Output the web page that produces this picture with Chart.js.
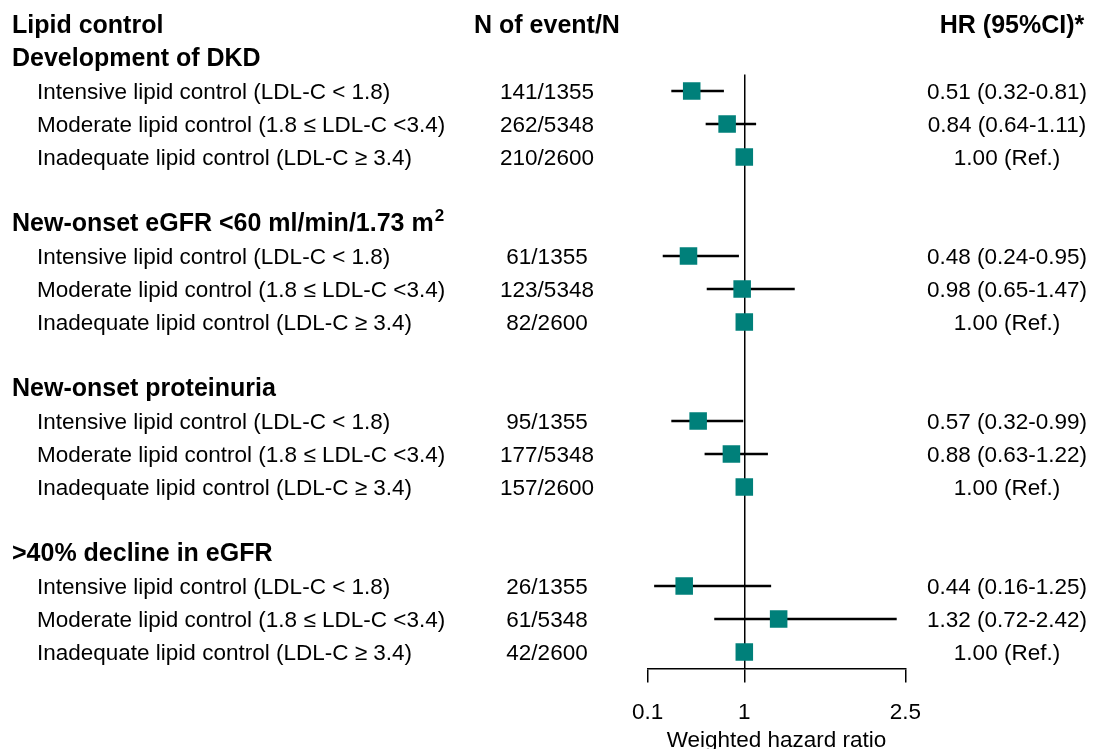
<!DOCTYPE html>
<html>
<head>
<meta charset="utf-8">
<script src="https://cdn.jsdelivr.net/npm/chart.js"></script>
<style>
  html, body { margin: 0; padding: 0; background: #fff; }
  #wrap { width: 1094px; height: 749px; }
</style>
</head>
<body>
<div id="wrap"><canvas id="forestPlot"></canvas></div>
<script>
// data
const groups = ['Development of DKD', 'New-onset eGFR <60 ml/min/1.73 m', 'New-onset proteinuria', '>40% decline in eGFR'];
const groupSup = ['', '2', '', ''];
const levels = ['Intensive lipid control (LDL-C < 1.8)', 'Moderate lipid control (1.8 \u2264 LDL-C <3.4)', 'Inadequate lipid control (LDL-C \u2265 3.4)'];
const events = ['141/1355', '262/5348', '210/2600', '61/1355', '123/5348', '82/2600', '95/1355', '177/5348', '157/2600', '26/1355', '61/5348', '42/2600'];
const hr = [0.51, 0.84, 1.00, 0.48, 0.98, 1.00, 0.57, 0.88, 1.00, 0.44, 1.32, 1.00];
const lower = [0.32, 0.64, null, 0.24, 0.65, null, 0.32, 0.63, null, 0.16, 0.72, null];
const upper = [0.81, 1.11, null, 0.95, 1.47, null, 0.99, 1.22, null, 1.25, 2.42, null];
const xTicks = [0.1, 1, 2.5];

const teal = '#00807a';
const fam = '"Liberation Sans", Arial, sans-serif';
const regFont = '22.5px ' + fam;
const boldFont = 'bold 25px ' + fam;
const supFont = 'bold 17px ' + fam;

// row 0 = column headers; each group: header row, 3 rows, blank row
function rowOf(i) {
    const g = Math.floor(i / 3);
    return 2 + g * 5 + (i % 3);
}

const points = hr.map((v, i) => ({ x: v, y: rowOf(i) }));

const ciSets = [];
lower.forEach((lo, i) => {
    if (lo === null) return;
    ciSets.push({
        type: 'line',
        data: [{ x: lo, y: rowOf(i) }, { x: upper[i], y: rowOf(i) }],
        borderColor: '#000',
        borderWidth: 2.7,
        pointRadius: 0,
        fill: false
    });
});

function hrLabel(i) {
    if (lower[i] === null) return hr[i].toFixed(2) + ' (Ref.)';
    return hr[i].toFixed(2) + ' (' + lower[i].toFixed(2) + '-' + upper[i].toFixed(2) + ')';
}

const tableText = {
    id: 'tableText',
    afterDraw(chart) {
        const { ctx, scales: { y } } = chart;
        const colN = 547, colHR = 1007;
        const dy = 1.5; // canvas 'middle' sits a bit high for caps
        ctx.save();
        ctx.fillStyle = '#000';
        ctx.textBaseline = 'middle';

        // column headers
        const hy = y.getPixelForValue(0) + dy;
        ctx.font = boldFont;
        ctx.textAlign = 'left';
        ctx.fillText('Lipid control', 12, hy);
        ctx.textAlign = 'center';
        ctx.fillText('N of event/N', colN, hy);
        ctx.fillText('HR (95%CI)*', 1012, hy);

        groups.forEach((g, k) => {
            const py = y.getPixelForValue(1 + k * 5) + dy;
            ctx.font = boldFont;
            ctx.textAlign = 'left';
            ctx.fillText(g, 12, py);
            if (groupSup[k]) {
                const w = ctx.measureText(g).width;
                ctx.font = supFont;
                ctx.fillText(groupSup[k], 12 + w + 1, py - 8);
            }
        });

        ctx.font = regFont;
        hr.forEach((v, i) => {
            const py = y.getPixelForValue(rowOf(i)) + dy;
            ctx.textAlign = 'left';
            ctx.fillText(levels[i % 3], 37, py);
            ctx.textAlign = 'center';
            ctx.fillText(events[i], colN, py);
            ctx.fillText(hrLabel(i), colHR, py);
        });
        ctx.restore();
    }
};

const ctx = document.getElementById('forestPlot').getContext('2d');

const config = {
    type: 'scatter',
    data: {
        datasets: [{
            type: 'scatter',
            data: points,
            pointStyle: 'rect',
            pointRadius: 12.4,
            pointHoverRadius: 12.4,
            backgroundColor: teal,
            borderColor: teal,
            borderWidth: 0
        }].concat(ciSets)
    },
    options: {
        responsive: true,
        maintainAspectRatio: false,
        animation: false,
        layout: {
            padding: { left: 647.7, right: 188.7, top: 74.5, bottom: 0 }
        },
        plugins: {
            legend: { display: false },
            tooltip: { enabled: false }
        },
        scales: {
            x: {
                type: 'linear',
                min: 0.1,
                max: 2.5,
                afterBuildTicks: (scale) => {
                    scale.ticks = xTicks.map(v => ({ value: v }));
                },
                afterFit: (scale) => {
                    scale.height = 80.5;
                },
                ticks: {
                    color: '#000',
                    padding: 16.5,
                    font: { family: fam, size: 22.5 },
                    callback: (v) => String(v)
                },
                grid: {
                    drawOnChartArea: true,
                    color: (c) => (c.tick && c.tick.value === 1 ? '#000' : 'rgba(0,0,0,0)'),
                    tickColor: '#000',
                    tickLength: 14,
                    lineWidth: 1.5
                },
                border: { display: true, color: '#000', width: 1.5 },
                title: {
                    display: true,
                    text: 'Weighted hazard ratio',
                    color: '#000',
                    padding: 0,
                    font: { family: fam, size: 22.5, lineHeight: 0.72 }
                }
            },
            y: {
                type: 'linear',
                reverse: true,
                min: 1.5,
                max: 19.5,
                display: false
            }
        }
    },
    plugins: [tableText]
};

const forestPlot = new Chart(ctx, config);
</script>
</body>
</html>
